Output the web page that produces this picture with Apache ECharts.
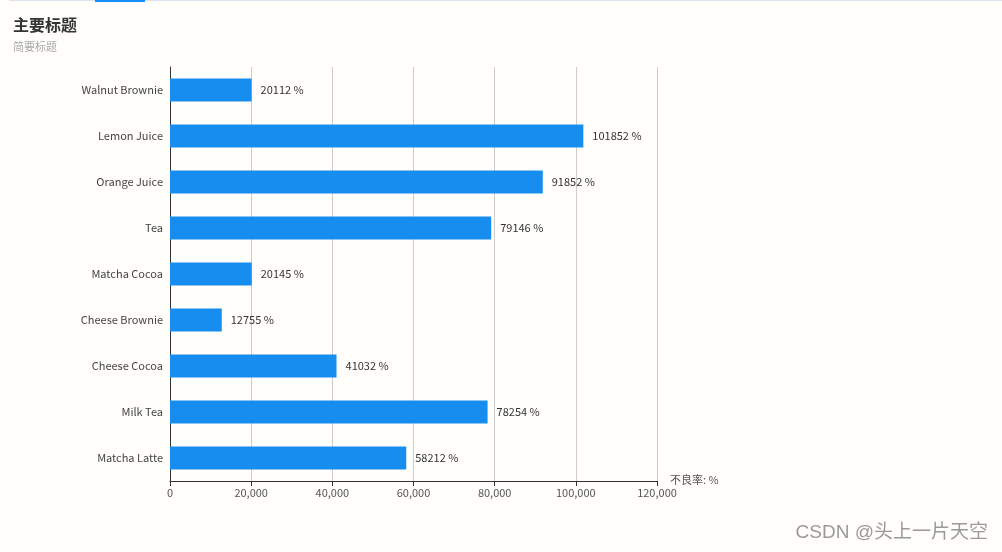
<!DOCTYPE html>
<html>
<head>
<meta charset="utf-8">
<script src="https://cdn.jsdelivr.net/npm/echarts@6/dist/echarts.min.js"></script>
<style>
html, body { margin: 0; padding: 0; background: #fffefb; }
#tabline { position: absolute; left: 9px; right: 0; top: 0; height: 1px; background: #dde3ee; z-index: 10; }
#tabactive { position: absolute; left: 95px; width: 50px; top: 0; height: 2px; background: #1890ff; z-index: 11; }
#main { width: 1002px; height: 552px; }
</style>
</head>
<body>
<div id="tabline"></div>
<div id="tabactive"></div>
<div id="main"></div>
<script>
// 类目（从下往上）
var categories = ['Matcha Latte', 'Milk Tea', 'Cheese Cocoa', 'Cheese Brownie', 'Matcha Cocoa', 'Tea', 'Orange Juice', 'Lemon Juice', 'Walnut Brownie']
var values = [58212, 78254, 41032, 12755, 20145, 79146, 91852, 101852, 20112]

var option = {
    backgroundColor: '#fffefb',
    textStyle: { fontFamily: '"Noto Sans CJK SC", "Noto Sans", sans-serif' },
    title: {
        text: '主要标题',
        subtext: '简要标题',
        left: 8,
        top: 12,
        itemGap: 8,
        textStyle: { fontSize: 16, fontWeight: 'bold', color: '#333' },
        subtextStyle: { fontSize: 11, color: '#aaa' }
    },
    graphic: [{
        type: 'text',
        right: 14,
        bottom: 10,
        style: {
            text: 'CSDN @头上一片天空',
            fontSize: 19,
            fill: '#9a9a9a',
            fontFamily: '"Liberation Sans", "Noto Sans CJK SC", sans-serif'
        }
    }],
    grid: {
        left: 170,
        top: 67,
        width: 487,
        height: 414
    },
    xAxis: {
        type: 'value',
        min: 0,
        max: 120000,
        interval: 20000,
        name: '不良率: %',
        nameGap: 13,
        nameTextStyle: { color: '#555', fontSize: 11, verticalAlign: 'top', padding: [-7, 0, 0, 0] },
        axisLine: { show: true, lineStyle: { color: '#333' } },
        axisTick: { show: true, lineStyle: { color: '#333' } },
        axisLabel: { color: '#555', fontSize: 11, margin: 6 },
        splitLine: { show: true, lineStyle: { color: '#ccc' } }
    },
    yAxis: {
        type: 'category',
        data: categories,
        axisLine: { lineStyle: { color: '#333' } },
        axisTick: { lineStyle: { color: '#333' } },
        axisLabel: { color: '#444', fontSize: 11, margin: 7 }
    },
    series: [{
        type: 'bar',
        data: values,
        barWidth: '50%',
        itemStyle: { color: '#188df0' },
        label: {
            show: true,
            position: 'right',
            distance: 9,
            color: '#333',
            fontSize: 11,
            formatter: '{c} %'
        }
    }]
}

var chart = echarts.init(document.getElementById('main'))
chart.setOption(option)
</script>
</body>
</html>
